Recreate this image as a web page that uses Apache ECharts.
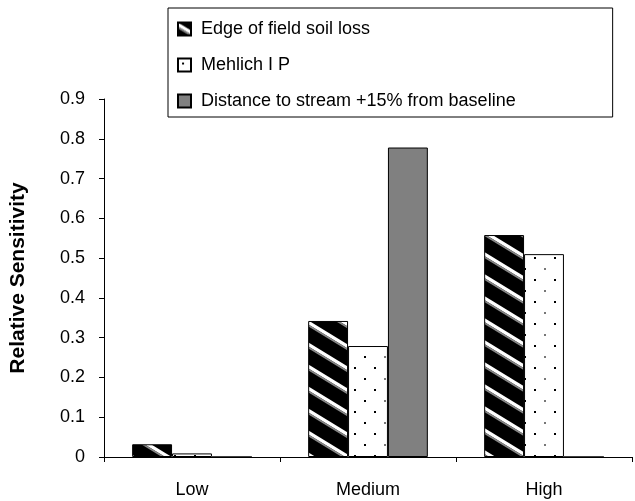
<!DOCTYPE html>
<html>
<head>
<meta charset="utf-8">
<script src="https://cdn.jsdelivr.net/npm/echarts@6/dist/echarts.min.js"></script>
<style>
  html, body { margin: 0; padding: 0; background: #fff; }
  #chart { width: 635px; height: 501px; }
</style>
</head>
<body>
<div id="chart"></div>
<script>
// Sensitivity categories and per-factor relative sensitivity values
const categories = ['Low', 'Medium', 'High'];
const soilLoss = [0.032, 0.342, 0.558];
const mehlichP = [0.009, 0.279, 0.51];
const streamDistance = [0, 0.778, 0];
const seriesNames = [
  'Edge of field soil loss',
  'Mehlich I P',
  'Distance to stream +15% from baseline'
];
const yTicks = [0, 0.1, 0.2, 0.3, 0.4, 0.5, 0.6, 0.7, 0.8, 0.9];

const FONT = '"Liberation Sans", Arial, sans-serif';

// Black fill with white diagonal stripes running down to the right
function makeStripeTile() {
  const w = 36, h = 22;
  const c = document.createElement('canvas');
  c.width = w; c.height = h;
  const ctx = c.getContext('2d');
  ctx.fillStyle = '#000';
  ctx.fillRect(0, 0, w, h);
  for (const o of [-h, 0, h]) {
    ctx.fillStyle = '#fff';
    ctx.beginPath();
    ctx.moveTo(0, o);
    ctx.lineTo(w, o + h);
    ctx.lineTo(w, o + h + 4);
    ctx.lineTo(0, o + 4);
    ctx.closePath();
    ctx.fill();
    ctx.fillStyle = '#888';
    ctx.beginPath();
    ctx.moveTo(0, o + 4);
    ctx.lineTo(w, o + h + 4);
    ctx.lineTo(w, o + h + 6);
    ctx.lineTo(0, o + 6);
    ctx.closePath();
    ctx.fill();
  }
  return c;
}

// White fill with staggered small dots
function makeDotTile() {
  const w = 40, h = 22;
  const c = document.createElement('canvas');
  c.width = w; c.height = h;
  const ctx = c.getContext('2d');
  ctx.fillStyle = '#fff';
  ctx.fillRect(0, 0, w, h);
  ctx.fillStyle = '#000';
  ctx.fillRect(4, 4, 2, 2);
  ctx.fillRect(14, 15, 2, 2);
  ctx.fillRect(34, 15, 2, 2);
  ctx.fillStyle = '#777';
  ctx.fillRect(24, 4, 2, 2);
  return c;
}

const stripe = { image: makeStripeTile(), repeat: 'repeat' };
const dots = { image: makeDotTile(), repeat: 'repeat' };

const chart = echarts.init(document.getElementById('chart'), null, { renderer: 'canvas' });

const barBase = { type: 'bar', barGap: '0%', barCategoryGap: '32%', animation: false };

chart.setOption({
  backgroundColor: '#fff',
  textStyle: { fontFamily: FONT },
  legend: {
    orient: 'vertical',
    left: 168,
    top: 8,
    padding: [12, 97, 7, 9],
    itemGap: 18,
    itemWidth: 13,
    itemHeight: 13,
    borderColor: '#000',
    borderWidth: 1,
    icon: 'rect',
    textStyle: { fontFamily: FONT, fontSize: 18, color: '#000', padding: [0, 0, 0, 5] },
    data: seriesNames
  },
  grid: { left: 102, right: 3, top: 99, bottom: 44, containLabel: false },
  xAxis: {
    type: 'category',
    data: categories,
    axisLine: { lineStyle: { color: '#000', width: 1 } },
    axisTick: { show: true, alignWithLabel: false, length: 5, lineStyle: { color: '#000' } },
    axisLabel: { color: '#000', fontSize: 18, fontFamily: FONT, margin: 24 },
    splitLine: { show: false }
  },
  yAxis: {
    type: 'value',
    min: yTicks[0],
    max: yTicks[yTicks.length - 1],
    interval: 0.1,
    name: 'Relative Sensitivity',
    nameLocation: 'middle',
    nameGap: 75,
    nameTextStyle: { color: '#000', fontSize: 21, fontWeight: 'bold', fontFamily: FONT },
    axisLine: { show: true, lineStyle: { color: '#000', width: 1 } },
    axisTick: { show: true, length: 5, lineStyle: { color: '#000' } },
    axisLabel: {
      color: '#000', fontSize: 18, fontFamily: FONT, margin: 19,
      formatter: v => String(Math.round(v * 10) / 10)
    },
    splitLine: { show: false }
  },
  series: [
    Object.assign({}, barBase, {
      name: seriesNames[0],
      data: soilLoss,
      itemStyle: { color: stripe, borderColor: '#000', borderWidth: 1 }
    }),
    Object.assign({}, barBase, {
      name: seriesNames[1],
      data: mehlichP,
      itemStyle: { color: dots, borderColor: '#000', borderWidth: 1 }
    }),
    Object.assign({}, barBase, {
      name: seriesNames[2],
      data: streamDistance,
      itemStyle: { color: '#808080', borderColor: '#000', borderWidth: 1 }
    })
  ]
});
</script>
</body>
</html>
